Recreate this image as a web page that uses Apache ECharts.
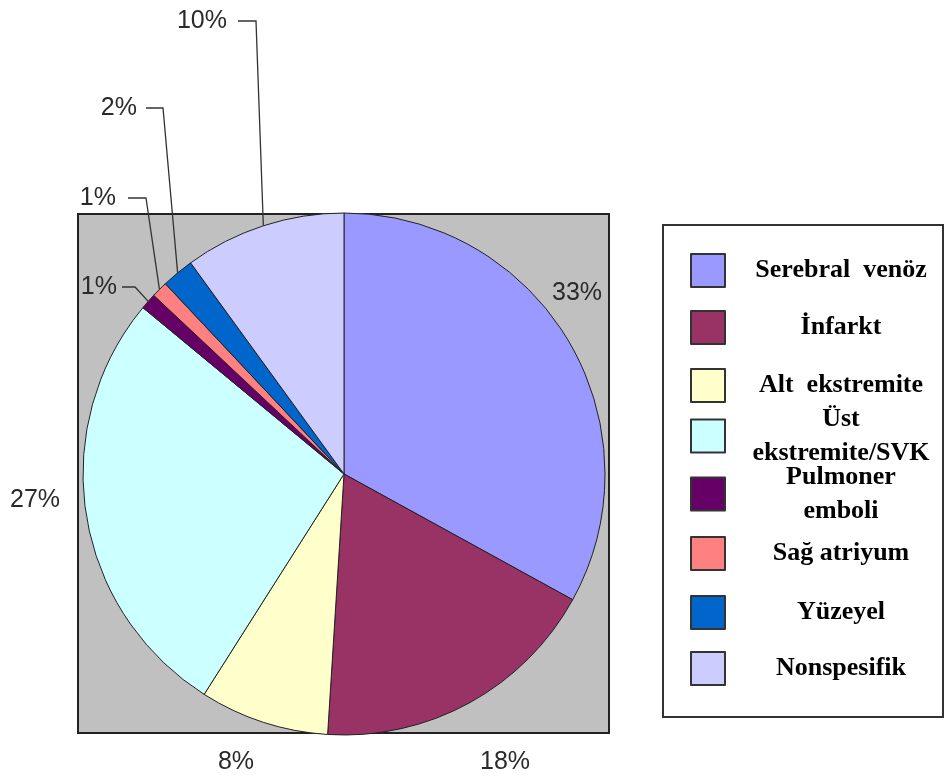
<!DOCTYPE html>
<html>
<head>
<meta charset="utf-8">
<script src="https://cdn.jsdelivr.net/npm/echarts@6/dist/echarts.min.js"></script>
<style>
  html, body { margin: 0; padding: 0; background: #ffffff; }
  #chart { width: 945px; height: 779px; }
</style>
</head>
<body>
<div id="chart"></div>
<script>
// Thrombosis localisation shares (%)
const categories = [
  'Serebral  venöz',
  'İnfarkt',
  'Alt  ekstremite',
  'Üst\nekstremite/SVK',
  'Pulmoner\nemboli',
  'Sağ atriyum',
  'Yüzeyel',
  'Nonspesifik'
];
const shares = [33, 18, 8, 27, 1, 1, 2, 10];
const colors = ['#9999FF', '#993366', '#FFFFCC', '#CCFFFF', '#660066', '#FF8080', '#0066CC', '#CCCCFF'];

// Where each percentage label sits: [x, y, align]
const labelSpots = [
  [577, 293, 'center'],
  [505, 762, 'center'],
  [236, 762, 'center'],
  [35, 500, 'center'],
  [117, 287, 'right'],
  [116, 198, 'right'],
  [137, 108, 'right'],
  [227, 21, 'right']
];
// Bends of the leader lines after leaving the slice edge (null = no leader)
const leaderBends = [
  null, null, null, null,
  [[135, 287], [122, 287]],
  [[146, 198], [128, 198]],
  [[163, 108], [146, 108]],
  [[256, 21], [238, 21]]
];
// Vertical centre of each legend row
const legendRows = [270, 327, 385, 440, 498, 553, 612, 668];

const pieCenter = [344, 474];
const pieRadius = 261;
const legendLineHeight = 34;

const chart = echarts.init(document.getElementById('chart'), null, { renderer: 'canvas' });

const total = shares.reduce((a, b) => a + b, 0);
function edgePoint(i) {
  let before = 0;
  for (let k = 0; k < i; k++) before += shares[k];
  const a = ((before + shares[i] / 2) / total) * Math.PI * 2;
  return [pieCenter[0] + pieRadius * Math.sin(a), pieCenter[1] - pieRadius * Math.cos(a)];
}

const seriesData = categories.map((name, i) => ({
  name: name,
  value: shares[i],
  itemStyle: { color: colors[i] },
  labelLine: { show: leaderBends[i] !== null }
}));

const legends = categories.map((name, i) => {
  const lines = name.split('\n').length;
  const h = Math.max(33, lines * legendLineHeight);
  return {
    data: [name],
    orient: 'vertical',
    left: 690,
    top: legendRows[i] - h / 2,
    padding: 0,
    itemWidth: 34,
    itemHeight: 33,
    icon: 'rect',
    selectedMode: false,
    itemStyle: { borderColor: '#333333', borderWidth: 2 },
    formatter: function (n) {
      return n.split('\n').map(l => '{t|' + l + '}').join('\n');
    },
    textStyle: {
      rich: {
        t: {
          width: 222,
          align: 'center',
          fontFamily: '"Liberation Serif", "Times New Roman", serif',
          fontWeight: 'bold',
          fontSize: 26,
          lineHeight: legendLineHeight,
          color: '#000000'
        }
      }
    }
  };
});

const option = {
  backgroundColor: '#ffffff',
  animation: false,
  graphic: [
    {
      type: 'rect',
      z: 0,
      shape: { x: 78, y: 214, width: 531, height: 519 },
      style: { fill: '#C0C0C0', stroke: '#222222', lineWidth: 2 }
    },
    {
      type: 'rect',
      z: 0,
      shape: { x: 663, y: 225, width: 280, height: 492 },
      style: { fill: '#ffffff', stroke: '#333333', lineWidth: 2 }
    }
  ],
  legend: legends,
  series: [
    {
      type: 'pie',
      center: pieCenter,
      radius: pieRadius,
      startAngle: 90,
      clockwise: true,
      avoidLabelOverlap: false,
      silent: true,
      itemStyle: { borderColor: '#222222', borderWidth: 1 },
      label: {
        show: true,
        position: 'outside',
        formatter: '{c}%',
        fontFamily: '"Liberation Sans", Arial, sans-serif',
        fontSize: 25,
        color: '#2a2a2a'
      },
      labelLine: {
        show: true,
        length: 10,
        length2: 10,
        lineStyle: { color: '#333333', width: 1.3 }
      },
      labelLayout: function (params) {
        const i = params.dataIndex;
        const spot = labelSpots[i];
        const out = { x: spot[0], y: spot[1], align: spot[2], verticalAlign: 'middle' };
        if (leaderBends[i]) {
          const start = (params.labelLinePoints && params.labelLinePoints[0]) || edgePoint(i);
          out.labelLinePoints = [start].concat(leaderBends[i]);
        }
        return out;
      },
      data: seriesData
    }
  ]
};

chart.setOption(option);
</script>
</body>
</html>
